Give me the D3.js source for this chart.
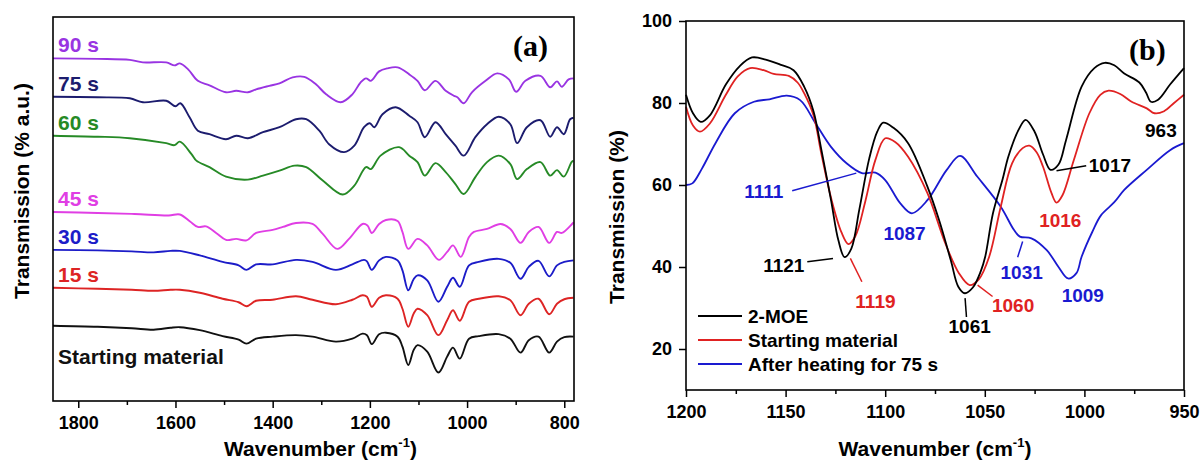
<!DOCTYPE html>
<html>
<head>
<meta charset="utf-8">
<script src="https://cdn.jsdelivr.net/npm/d3@7"></script>
<style>
  body { margin: 0; background: #fff; }
  svg text { font-family: "Liberation Sans", Arial, sans-serif; font-weight: bold; }
</style>
</head>
<body>
<svg id="chart" width="1201" height="461"></svg>
<script>
// ---------- panel (a): FTIR spectra vs heating time, offset (wavenumber, a.u.) ----------
const specStart = [[1852,15.1],[1760,14.9],[1690,14.6],[1645,14.3],[1610,14.7],[1591,14.8],[1550,14.2],[1503,13.0],[1470,12.3],[1454,11.5],[1434,12.5],[1400,12.9],[1352,13.2],[1318,12.9],[1270,11.9],[1236,12.5],[1215,13.5],[1206,13.2],[1196,11.4],[1181,13.4],[1167,13.7],[1143,12.9],[1133,10.9],[1121,7.2],[1110,10.2],[1102,11.2],[1082,9.9],[1059,5.7],[1041,8.9],[1029,10.7],[1015,8.5],[996,12.5],[976,13.0],[935,13.4],[911,12.5],[890,9.7],[873,12.2],[853,12.9],[831,9.7],[815,11.9],[800,12.8],[781,12.9]];
const spec15 = [[1852,22.7],[1760,22.5],[1690,22.3],[1645,22.1],[1610,22.3],[1591,22.3],[1550,21.7],[1503,20.5],[1470,19.8],[1454,19.0],[1434,20.1],[1400,20.3],[1352,21.0],[1318,20.3],[1270,19.4],[1236,20.3],[1215,21.2],[1206,20.9],[1196,18.9],[1181,20.7],[1167,21.2],[1143,20.5],[1133,18.5],[1121,14.9],[1110,17.5],[1102,18.5],[1082,17.2],[1059,13.2],[1041,16.2],[1029,18.2],[1015,16.1],[996,19.9],[976,20.5],[935,21.0],[911,20.2],[890,17.2],[873,19.5],[853,20.5],[831,17.4],[815,19.5],[800,20.4],[781,20.7]];
const spec30 = [[1852,30.3],[1760,30.2],[1690,30.0],[1645,29.8],[1610,30.1],[1591,30.1],[1550,29.2],[1503,27.9],[1470,27.2],[1454,26.3],[1434,27.4],[1400,27.4],[1352,28.3],[1318,27.9],[1270,26.3],[1236,27.4],[1212,28.3],[1206,28.0],[1196,26.3],[1181,28.2],[1167,28.9],[1143,28.2],[1133,26.2],[1121,22.2],[1110,24.4],[1102,25.2],[1082,24.2],[1059,19.9],[1041,22.9],[1029,24.7],[1015,22.9],[996,27.2],[976,27.9],[935,28.5],[911,27.7],[890,24.5],[873,26.9],[853,28.1],[831,25.0],[815,27.2],[800,27.9],[781,28.2]];
const spec45 = [[1852,37.9],[1760,37.7],[1684,37.5],[1614,37.2],[1591,37.4],[1570,36.0],[1554,34.9],[1537,35.0],[1515,33.6],[1496,32.3],[1475,32.5],[1454,32.2],[1434,33.7],[1400,34.3],[1379,34.9],[1352,35.7],[1318,35.5],[1297,33.5],[1267,30.5],[1243,32.5],[1215,35.5],[1205,35.2],[1196,33.7],[1181,35.5],[1167,36.3],[1143,36.1],[1133,33.9],[1121,30.5],[1102,32.5],[1082,31.2],[1058,28.3],[1041,29.9],[1029,31.2],[1013,28.9],[996,32.9],[986,33.9],[959,34.5],[931,35.5],[911,34.5],[890,31.7],[873,33.9],[853,34.9],[831,31.7],[815,33.9],[805,33.7],[784,35.5],[781,35.8]];
const spec60 = [[1852,53.2],[1760,53.0],[1694,52.7],[1619,51.7],[1602,51.3],[1591,52.0],[1567,49.5],[1557,48.2],[1530,46.9],[1496,45.0],[1451,44.4],[1420,45.2],[1386,46.2],[1355,47.2],[1331,46.9],[1297,44.2],[1256,41.4],[1232,43.2],[1208,46.9],[1198,46.5],[1178,49.2],[1140,50.9],[1119,49.2],[1102,47.9],[1087,45.2],[1065,47.7],[1044,45.9],[1024,43.5],[1007,41.5],[983,44.9],[959,47.9],[935,49.2],[911,47.5],[897,44.5],[877,46.5],[849,47.9],[829,45.2],[815,46.3],[801,45.0],[785,47.9],[781,48.2]];
const spec75 = [[1852,61.0],[1760,60.9],[1694,60.7],[1667,59.9],[1619,60.2],[1600,59.1],[1590,59.7],[1571,56.9],[1554,54.2],[1530,53.5],[1496,52.5],[1475,53.2],[1451,52.7],[1420,53.9],[1386,54.9],[1352,56.5],[1331,56.5],[1304,54.2],[1284,51.5],[1253,49.9],[1232,51.2],[1212,54.9],[1200,55.7],[1191,54.9],[1174,57.5],[1147,58.9],[1119,57.2],[1102,55.9],[1087,52.9],[1065,55.9],[1044,53.5],[1024,51.2],[1007,49.2],[983,52.9],[959,55.5],[935,57.0],[911,55.5],[897,51.7],[877,54.9],[849,56.3],[829,53.0],[815,54.9],[801,53.5],[788,56.5],[781,56.8]];
const spec90 = [[1852,68.7],[1760,68.6],[1694,68.4],[1667,67.9],[1619,67.9],[1602,67.3],[1591,67.7],[1574,66.5],[1554,64.2],[1530,63.3],[1496,61.9],[1475,62.2],[1451,61.9],[1434,62.5],[1407,63.2],[1386,63.7],[1359,64.9],[1335,65.0],[1311,63.5],[1290,61.5],[1260,59.9],[1236,61.5],[1219,63.9],[1208,64.7],[1198,64.2],[1181,66.1],[1164,66.7],[1143,66.9],[1119,65.5],[1102,64.2],[1087,62.3],[1065,64.2],[1044,62.2],[1027,61.2],[1020,60.9],[1007,59.7],[990,61.9],[962,64.2],[938,65.7],[914,64.5],[899,62.0],[880,64.2],[849,65.2],[829,62.9],[815,64.1],[805,63.0],[791,64.5],[781,64.7]];

const namesA = ["Starting material", "15 s", "30 s", "45 s", "60 s", "75 s", "90 s"];
const spectraA = [specStart, spec15, spec30, spec45, spec60, spec75, spec90];
const colorsA = ["#111111", "#dd2424", "#1c1cc8", "#e03ee4", "#268a26", "#1c1c6e", "#9934e2"];
const ticksA = [1800, 1600, 1400, 1200, 1000, 800];
const minorA = [1700, 1500, 1300, 1100, 900];

// ---------- panel (b): 1200-950 cm-1 region (wavenumber, %T) ----------
const moe = [[1200,82.0],[1196.5,77.5],[1192.6,75.4],[1188,77.0],[1180,84.5],[1173,89.0],[1166.9,91.1],[1160,90.6],[1152.3,89.3],[1146,88.0],[1140.7,84.0],[1136,78.0],[1132,68.5],[1127.2,56.3],[1123.5,46.5],[1120.4,42.4],[1117,44.5],[1113,54.0],[1108,66.5],[1104,73.0],[1101,75.2],[1096,74.0],[1088.5,70.2],[1078.8,59.6],[1073,51.5],[1067,41.5],[1063.3,35.2],[1060,33.6],[1056,35.0],[1052,39.0],[1049.8,42.5],[1045.9,53.1],[1041,61.5],[1038.2,66.9],[1033,73.5],[1029.5,75.9],[1025,73.0],[1020.8,67.5],[1017,63.7],[1013,65.0],[1009.2,71.0],[1001.4,84.0],[995,88.5],[989.8,89.8],[985,89.2],[980,87.2],[972.4,85.0],[969,82.5],[966.6,80.3],[963,80.8],[957,84.5],[950,88.5]];
const startMat = [[1200,79.1],[1196.5,74.5],[1193,73.0],[1188,75.0],[1180,82.0],[1174,86.5],[1167.8,88.5],[1161,88.0],[1156,87.1],[1148.4,86.6],[1144,85.0],[1140.7,82.4],[1136,77.0],[1132,67.5],[1127,56.5],[1122,48.5],[1118.5,45.6],[1115,47.5],[1110,56.0],[1105,66.0],[1100,71.4],[1095,70.5],[1088.5,66.9],[1078.8,58.0],[1070,46.0],[1063,38.5],[1057.6,35.6],[1053,37.0],[1047.8,42.5],[1042,54.7],[1036.3,65.3],[1031,69.0],[1027.6,69.6],[1024,68.0],[1020.8,64.5],[1016.5,58.0],[1014,55.7],[1011,57.5],[1005.3,66.1],[997.5,77.5],[992,82.0],[987.9,83.0],[982,82.2],[976.3,80.3],[968.7,78.7],[964.8,77.5],[960,78.0],[955,80.0],[950,82.0]];
const heated75 = [[1200,60.0],[1196.8,60.4],[1192,64.0],[1185.2,70.2],[1175.5,77.5],[1165.9,80.3],[1158.1,80.9],[1149.4,81.8],[1142.7,80.7],[1134.9,75.0],[1127.2,69.3],[1119.4,65.3],[1111.7,62.9],[1104.9,63.0],[1100,61.2],[1092.4,55.5],[1086.6,53.1],[1078.8,56.3],[1069.1,63.7],[1062.4,67.1],[1053.7,62.0],[1042,54.7],[1035.3,49.0],[1032.4,47.4],[1026.6,47.0],[1018.9,44.1],[1013,40.0],[1008.2,37.2],[1004,38.5],[1001.4,42.5],[996,48.6],[991.7,52.6],[985,55.8],[980,58.8],[968.7,63.7],[957,68.5],[950,70.2]];

const namesB = ["2-MOE", "Starting material", "After heating for 75 s"];
const spectraB = [moe, startMat, heated75];
const colorsB = ["#000000", "#e02222", "#1a1ad0"];
const ticksBx = [1200, 1150, 1100, 1050, 1000, 950];
const minorBx = [1175, 1125, 1075, 1025, 975];
const ticksBy = [20, 40, 60, 80, 100];

// peak labels: text, series index, label anchor (wn, %T), optional leader [wn1,t1,wn2,t2]
const peaksB = [
  ["963", 0, [961.6, 71.7], null],
  ["1017", 0, [997.8, 63.2], [1014, 63.5, 999.1, 64.7]],
  ["1016", 1, [1012.1, 49.8], null],
  ["1111", 2, [1161, 56.8], [1146.7, 58.6, 1114.5, 62.9]],
  ["1087", 2, [1090.3, 46.6], null],
  ["1121", 0, [1150.9, 38.9], [1139.1, 41.3, 1126.2, 42.1]],
  ["1119", 1, [1104.9, 30.0], [1117.5, 42.1, 1111.7, 36.4]],
  ["1061", 0, [1057.6, 23.9], [1059.9, 32.4, 1059.2, 27.8]],
  ["1060", 1, [1035.8, 29.0], [1053.6, 35.6, 1046.1, 32.8]],
  ["1031", 2, [1031.5, 37.1], [1031, 46.2, 1033.5, 42.4]],
  ["1009", 2, [1000.8, 31.5], null]
];

const svg = d3.select("#chart");

// ================= panel (a) =================
const boxA = {left: 53, right: 574, top: 17, bottom: 401};
const xA = d3.scaleLinear().domain([1852, 780]).range([boxA.left, boxA.right]);
const yA = d3.scaleLinear().domain([0, 77]).range([boxA.bottom, boxA.top]);

const gA = svg.append("g");
const lineA = d3.line().x(d => xA(d[0])).y(d => yA(d[1])).curve(d3.curveCatmullRom.alpha(0.5));

gA.selectAll("path.specA")
  .data(spectraA)
  .enter()
  .append("path")
  .attr("class", "specA")
  .attr("d", lineA)
  .attr("fill", "none")
  .attr("stroke", (d, i) => colorsA[i])
  .attr("stroke-width", 1.9)
  .attr("stroke-linejoin", "round");

// series names sit just above where each trace enters (starting material below it)
gA.selectAll("text.nameA")
  .data(spectraA)
  .enter()
  .append("text")
  .attr("class", "nameA")
  .attr("x", boxA.left + 5)
  .attr("y", (d, i) => i === 0 ? yA(d[0][1]) + 38 : yA(d[0][1]) - 6)
  .attr("fill", (d, i) => colorsA[i])
  .style("font-size", "21px")
  .text((d, i) => namesA[i]);

gA.append("g")
  .attr("transform", `translate(0,${boxA.bottom})`)
  .call(d3.axisBottom(xA).tickValues(ticksA).tickSize(7).tickPadding(8).tickFormat(d3.format("d")))
  .call(g => g.select(".domain").remove())
  .call(g => g.selectAll("line").attr("stroke-width", 1.5))
  .call(g => g.selectAll("text").style("font-size", "18px").attr("fill", "#000"));

gA.append("g")
  .attr("transform", `translate(0,${boxA.bottom})`)
  .call(d3.axisBottom(xA).tickValues(minorA).tickSize(4).tickFormat(""))
  .call(g => g.select(".domain").remove())
  .call(g => g.selectAll("line").attr("stroke-width", 1.5));

gA.append("rect")
  .attr("x", boxA.left).attr("y", boxA.top)
  .attr("width", boxA.right - boxA.left).attr("height", boxA.bottom - boxA.top)
  .attr("fill", "none").attr("stroke", "#000").attr("stroke-width", 1.6);

gA.append("text")
  .attr("x", 513).attr("y", 56)
  .style("font-family", "'Liberation Serif', 'Times New Roman', serif")
  .style("font-size", "30px")
  .text("(a)");

const titleA = gA.append("text")
  .attr("x", (boxA.left + boxA.right) / 2 + 7).attr("y", 456)
  .attr("text-anchor", "middle")
  .style("font-size", "21px");
titleA.append("tspan").text("Wavenumber (cm");
titleA.append("tspan").attr("dy", -9).style("font-size", "13px").text("-1");
titleA.append("tspan").attr("dy", 9).text(")");

gA.append("text")
  .attr("transform", "translate(22,191) rotate(-90)")
  .attr("text-anchor", "middle")
  .attr("dy", "0.35em")
  .style("font-size", "21px")
  .text("Transmission (% a.u.)");

// ================= panel (b) =================
const boxB = {left: 686, right: 1184, top: 21, bottom: 390};
const xB = d3.scaleLinear().domain([1200, 950]).range([boxB.left, boxB.right]);
const yB = d3.scaleLinear().domain([10, 100]).range([boxB.bottom, boxB.top]);

const gB = svg.append("g");
const lineB = d3.line().x(d => xB(d[0])).y(d => yB(d[1])).curve(d3.curveCatmullRom.alpha(0.5));

// draw blue first, then red, black on top
gB.selectAll("path.specB")
  .data([2, 1, 0])
  .enter()
  .append("path")
  .attr("class", "specB")
  .attr("d", i => lineB(spectraB[i]))
  .attr("fill", "none")
  .attr("stroke", i => colorsB[i])
  .attr("stroke-width", 1.8);

gB.append("g")
  .attr("transform", `translate(0,${boxB.bottom})`)
  .call(d3.axisBottom(xB).tickValues(ticksBx).tickSize(7).tickPadding(8).tickFormat(d3.format("d")))
  .call(g => g.select(".domain").remove())
  .call(g => g.selectAll("line").attr("stroke-width", 1.5))
  .call(g => g.selectAll("text").style("font-size", "18px").attr("fill", "#000"));

gB.append("g")
  .attr("transform", `translate(0,${boxB.bottom})`)
  .call(d3.axisBottom(xB).tickValues(minorBx).tickSize(4).tickFormat(""))
  .call(g => g.select(".domain").remove())
  .call(g => g.selectAll("line").attr("stroke-width", 1.5));

gB.append("g")
  .attr("transform", `translate(${boxB.left},0)`)
  .call(d3.axisLeft(yB).tickValues(ticksBy).tickSize(7).tickPadding(7))
  .call(g => g.select(".domain").remove())
  .call(g => g.selectAll("line").attr("stroke-width", 1.5))
  .call(g => g.selectAll("text").style("font-size", "18px").attr("fill", "#000"));

gB.append("rect")
  .attr("x", boxB.left).attr("y", boxB.top)
  .attr("width", boxB.right - boxB.left).attr("height", boxB.bottom - boxB.top)
  .attr("fill", "none").attr("stroke", "#000").attr("stroke-width", 1.6);

// peak labels + leader lines
gB.selectAll("line.leader")
  .data(peaksB.filter(p => p[3]))
  .enter()
  .append("line")
  .attr("class", "leader")
  .attr("x1", p => xB(p[3][0])).attr("y1", p => yB(p[3][1]))
  .attr("x2", p => xB(p[3][2])).attr("y2", p => yB(p[3][3]))
  .attr("stroke", p => colorsB[p[1]])
  .attr("stroke-width", 1.5);

gB.selectAll("text.peak")
  .data(peaksB)
  .enter()
  .append("text")
  .attr("class", "peak")
  .attr("x", p => xB(p[2][0])).attr("y", p => yB(p[2][1]))
  .attr("text-anchor", p => p[0] === "1017" ? "start" : "middle")
  .attr("fill", p => colorsB[p[1]])
  .style("font-size", "19px")
  .text(p => p[0]);

// legend
const legend = gB.append("g").attr("transform", `translate(${boxB.left + 12},${boxB.top + 295})`);
namesB.forEach((n, i) => {
  legend.append("line")
    .attr("x1", 0).attr("x2", 44)
    .attr("y1", i * 24).attr("y2", i * 24)
    .attr("stroke", colorsB[i]).attr("stroke-width", 1.8);
  legend.append("text")
    .attr("x", 50).attr("y", i * 24)
    .attr("dy", "0.35em")
    .style("font-size", "19px")
    .text(n);
});

gB.append("text")
  .attr("x", 1129).attr("y", 60)
  .style("font-family", "'Liberation Serif', 'Times New Roman', serif")
  .style("font-size", "30px")
  .text("(b)");

const titleB = gB.append("text")
  .attr("x", (boxB.left + boxB.right) / 2).attr("y", 456)
  .attr("text-anchor", "middle")
  .style("font-size", "21px");
titleB.append("tspan").text("Wavenumber (cm");
titleB.append("tspan").attr("dy", -9).style("font-size", "13px").text("-1");
titleB.append("tspan").attr("dy", 9).text(")");

gB.append("text")
  .attr("transform", "translate(617,217) rotate(-90)")
  .attr("text-anchor", "middle")
  .attr("dy", "0.35em")
  .style("font-size", "21px")
  .text("Transmission (%)");
</script>
</body>
</html>
